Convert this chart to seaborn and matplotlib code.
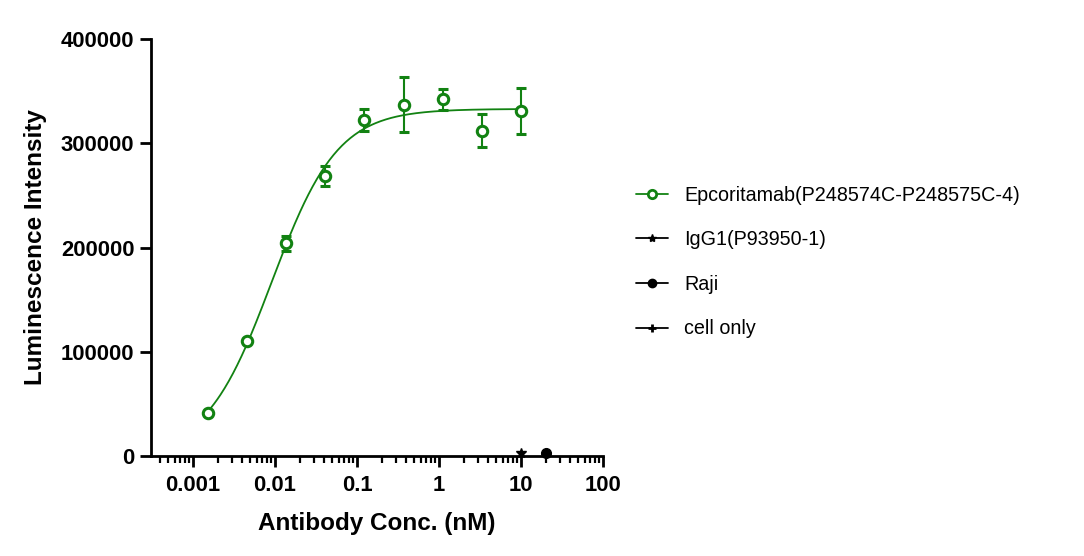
import numpy as np
import pandas as pd
import matplotlib
matplotlib.use("Agg")
import matplotlib.pyplot as plt
from matplotlib.lines import Line2D
from matplotlib.ticker import LogLocator, NullFormatter, FixedLocator, FixedFormatter
import seaborn as sns

# data
conc = [10, 3.333, 1.111, 0.3704, 0.1235, 0.04115, 0.01372, 0.004572, 0.001524]
lum = [331000, 312000, 342000, 337000, 322500, 269000, 204000, 110500, 41000]
lum_sd = [22000, 16000, 10000, 26600, 10300, 9600, 7200, 2000, 1000]

igg1_conc = [10]
igg1_lum = [2500]
raji_conc = [20]
raji_lum = [3000]
cell_conc = []
cell_lum = []

labels = ["Epcoritamab(P248574C-P248575C-4)", "IgG1(P93950-1)", "Raji", "cell only"]
x_ticks = [0.001, 0.01, 0.1, 1, 10, 100]
x_ticklabels = ["0.001", "0.01", "0.1", "1", "10", "100"]
y_ticks = [0, 100000, 200000, 300000, 400000]
y_ticklabels = ["0", "100000", "200000", "300000", "400000"]

green = "#128212"

sns.set_style("ticks")
plt.rcParams["font.family"] = ["Liberation Sans", "DejaVu Sans"]
plt.rcParams.update({"text.color": "black", "axes.labelcolor": "black",
                     "xtick.color": "black", "ytick.color": "black",
                     "axes.edgecolor": "black"})

# 4-parameter logistic fit (grid over EC50 / hill, linear for bottom/top)
logx = np.log10(conc)
y = np.array(lum, dtype=float)
best = None
for logc in np.linspace(-3, -1, 201):
    for h in np.linspace(0.5, 2.5, 201):
        f = 1.0 / (1.0 + 10 ** ((logc - logx) * h))
        A = np.column_stack([np.ones_like(f), f])
        coef = np.linalg.lstsq(A, y, rcond=None)[0]
        err = np.sum((A @ coef - y) ** 2)
        if best is None or err < best[0]:
            best = (err, logc, h, coef)
_, logc, hill, coef = best
xfit = np.logspace(np.log10(min(conc)), np.log10(max(conc)), 300)
yfit = coef[0] + coef[1] / (1.0 + 10 ** ((logc - np.log10(xfit)) * hill))
fit_df = pd.DataFrame({"conc": xfit, "lum": yfit})

fig = plt.figure(figsize=(10.84, 5.56), dpi=100)
ax = fig.add_axes([151 / 1084, 100 / 556, 452 / 1084, 417 / 556])

sns.lineplot(data=fit_df, x="conc", y="lum", ax=ax, color=green, lw=1.3)
ax.errorbar(conc, lum, yerr=lum_sd, fmt="o", mfc="white", mec=green, ecolor=green,
            ms=7.5, mew=2.2, elinewidth=1.5, capsize=3.6, capthick=1.5, zorder=5)
ax.plot(igg1_conc, igg1_lum, "*", color="black", ms=7, clip_on=False, zorder=6)
ax.plot(raji_conc, raji_lum, "o", color="black", ms=7, clip_on=False, zorder=6)
ax.plot(cell_conc, cell_lum, "+", color="black", ms=7, mew=2, clip_on=False, zorder=6)

ax.set_xscale("log")
ax.set_xlim(0.000308, 100)
ax.set_ylim(0, 400000)
ax.xaxis.set_major_locator(FixedLocator(x_ticks))
ax.xaxis.set_major_formatter(FixedFormatter(x_ticklabels))
ax.xaxis.set_minor_locator(LogLocator(base=10, subs=np.arange(2, 10)))
ax.xaxis.set_minor_formatter(NullFormatter())
ax.yaxis.set_major_locator(FixedLocator(y_ticks))
ax.yaxis.set_major_formatter(FixedFormatter(y_ticklabels))

sns.despine(ax=ax)
for s in ["left", "bottom"]:
    ax.spines[s].set_linewidth(2)
ax.tick_params(axis="both", which="major", length=8, width=2, labelsize=15.8, pad=4)
ax.tick_params(axis="x", which="major", pad=6)
ax.tick_params(axis="x", which="minor", length=5, width=1.6)
for lab in ax.get_xticklabels() + ax.get_yticklabels():
    lab.set_fontweight("bold")

ax.set_xlabel("Antibody Conc. (nM)", fontsize=17.5, fontweight="bold", labelpad=11)
ax.set_ylabel("Luminescence Intensity", fontsize=17.5, fontweight="bold", labelpad=10)

handles = [
    Line2D([], [], color=green, marker="o", mfc="white", mec=green, ms=6, mew=2, lw=1.3),
    Line2D([], [], color="black", marker="*", ms=6, lw=1.3),
    Line2D([], [], color="black", marker="o", ms=6, lw=1.3),
    Line2D([], [], color="black", marker="+", ms=6, mew=2, lw=1.3),
]
fig.legend(handles, labels, loc="center left", bbox_to_anchor=(618 / 1084, 1 - 262 / 556),
           frameon=False, fontsize=14.2, handlelength=1.65, handletextpad=0.8,
           labelspacing=1.3)

fig.savefig("out.png", dpi=100)
